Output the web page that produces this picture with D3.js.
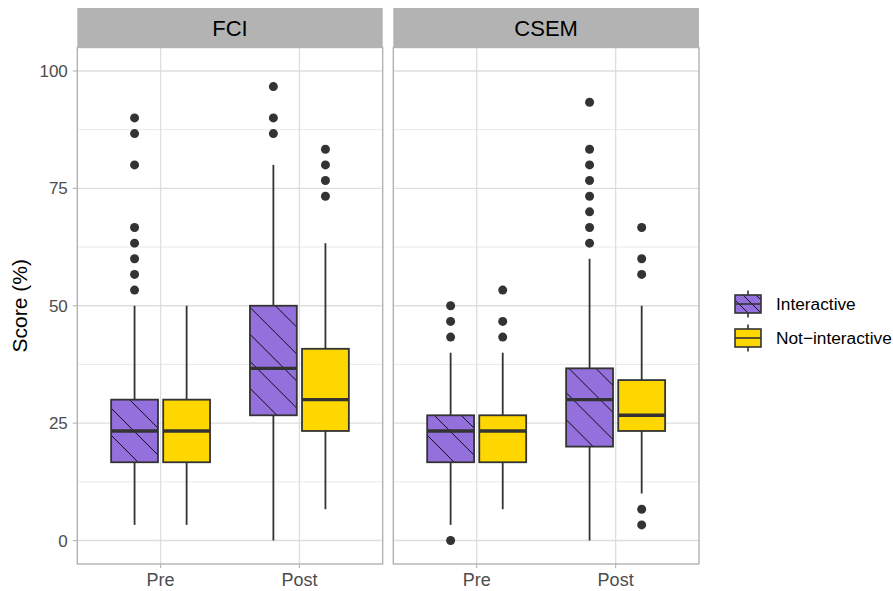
<!doctype html>
<html>
<head>
<meta charset="utf-8"/>
<script src="https://cdn.jsdelivr.net/npm/d3@7/dist/d3.min.js"></script>
<style>
  body { margin: 0; background: #fff; }
  text { font-family: "Liberation Sans", Arial, Helvetica, sans-serif; }
</style>
</head>
<body>
<script>
// ---- data ----
var facets = ["FCI", "CSEM"];
var times = ["Pre", "Post"];
var groups = ["Interactive", "Not-interactive"];
var groupLabels = ["Interactive", "Not\u2212interactive"];
var yTicks = [0, 25, 50, 75, 100];
var yMinor = [12.5, 37.5, 62.5, 87.5];

// facet, time, group, whisker low, q1, median, q3, whisker high
var boxStats = [
  ["FCI", "Pre", "Interactive", 3.33, 16.67, 23.33, 30, 50],
  ["FCI", "Pre", "Not-interactive", 3.33, 16.67, 23.33, 30, 50],
  ["FCI", "Post", "Interactive", 0, 26.67, 36.67, 50, 80],
  ["FCI", "Post", "Not-interactive", 6.67, 23.33, 30, 40.83, 63.33],
  ["CSEM", "Pre", "Interactive", 3.33, 16.67, 23.33, 26.67, 40],
  ["CSEM", "Pre", "Not-interactive", 6.67, 16.67, 23.33, 26.67, 40],
  ["CSEM", "Post", "Interactive", 0, 20, 30, 36.67, 60],
  ["CSEM", "Post", "Not-interactive", 10, 23.33, 26.67, 34.17, 50]
];
// outliers, same order as boxStats
var outliers = [
  [53.33, 56.67, 60, 63.33, 66.67, 80, 86.67, 90],
  [],
  [86.67, 90, 96.67],
  [73.33, 76.67, 80, 83.33],
  [0, 43.33, 46.67, 50],
  [43.33, 46.67, 53.33],
  [63.33, 66.67, 70, 73.33, 76.67, 80, 83.33, 93.33],
  [3.33, 6.67, 56.67, 60, 66.67]
];

var fills = ["#9370DB", "#FFD700"];

// ---- layout ----
var W = 893, H = 591;
var panelTop = 47.5, panelBottom = 564;
var panelX = [[77.3, 382.7], [393.3, 699]];
var stripTop = 8;

var svg = d3.select("body").append("svg").attr("width", W).attr("height", H);
var defs = svg.append("defs");

var y = d3.scaleLinear().domain([-5, 105]).range([panelBottom, panelTop]);
var fillScale = d3.scaleOrdinal().domain(groups).range(fills);

var dodge = 0.1875, boxW = 0.3375;
var clipId = 0;

function hatch(g, x0, y0, w, h, step) {
  var id = "clip" + (clipId++);
  defs.append("clipPath").attr("id", id)
    .append("rect").attr("x", x0).attr("y", y0).attr("width", w).attr("height", h);
  var lines = [];
  for (var c = -h; c < w; c += step) lines.push(c);
  g.append("g").attr("clip-path", "url(#" + id + ")")
    .selectAll("line").data(lines).enter().append("line")
    .attr("x1", function(c) { return x0 + c; })
    .attr("y1", y0)
    .attr("x2", function(c) { return x0 + c + h + w; })
    .attr("y2", y0 + h + w)
    .attr("stroke", "#000").attr("stroke-width", 0.9);
}

facets.forEach(function(f, fi) {
  var px0 = panelX[fi][0], px1 = panelX[fi][1];
  var x = d3.scaleLinear().domain([0.4, 2.6]).range([px0, px1]);
  var unit = x(1) - x(0);
  var pos = function(t) { return x(times.indexOf(t) + 1); };

  var g = svg.append("g");

  // strip
  g.append("rect").attr("x", px0).attr("y", stripTop)
    .attr("width", px1 - px0).attr("height", panelTop - stripTop)
    .attr("fill", "#b3b3b3");
  g.append("text").attr("x", (px0 + px1) / 2).attr("y", (stripTop + panelTop) / 2)
    .attr("dy", "0.36em").attr("text-anchor", "middle")
    .attr("font-size", 22).attr("fill", "#000").text(f);

  // grid
  g.selectAll(".minor").data(yMinor).enter().append("line")
    .attr("x1", px0).attr("x2", px1)
    .attr("y1", function(d) { return y(d); }).attr("y2", function(d) { return y(d); })
    .attr("stroke", "#e6e6e6").attr("stroke-width", 0.9);
  g.selectAll(".major").data(yTicks).enter().append("line")
    .attr("x1", px0).attr("x2", px1)
    .attr("y1", function(d) { return y(d); }).attr("y2", function(d) { return y(d); })
    .attr("stroke", "#dedede").attr("stroke-width", 1.3);
  g.selectAll(".vmajor").data(times).enter().append("line")
    .attr("y1", panelTop).attr("y2", panelBottom)
    .attr("x1", pos).attr("x2", pos)
    .attr("stroke", "#dedede").attr("stroke-width", 1.3);

  // boxes
  boxStats.forEach(function(b, bi) {
    if (b[0] !== f) return;
    var gi = groups.indexOf(b[2]);
    var cx = pos(b[1]) + (gi === 0 ? -dodge : dodge) * unit;
    var hw = boxW / 2 * unit;
    var col = "#333333";
    // whiskers
    g.append("line").attr("x1", cx).attr("x2", cx)
      .attr("y1", y(b[3])).attr("y2", y(b[4]))
      .attr("stroke", col).attr("stroke-width", 1.8);
    g.append("line").attr("x1", cx).attr("x2", cx)
      .attr("y1", y(b[6])).attr("y2", y(b[7]))
      .attr("stroke", col).attr("stroke-width", 1.8);
    // box
    var bx = cx - hw, by = y(b[6]), bh = y(b[4]) - y(b[6]);
    g.append("rect").attr("x", bx).attr("y", by).attr("width", 2 * hw).attr("height", bh)
      .attr("fill", fillScale(b[2]));
    if (gi === 0) hatch(g, bx, by, 2 * hw, bh, 27);
    g.append("line").attr("x1", bx).attr("x2", bx + 2 * hw)
      .attr("y1", y(b[5])).attr("y2", y(b[5]))
      .attr("stroke", col).attr("stroke-width", 3.4);
    g.append("rect").attr("x", bx).attr("y", by).attr("width", 2 * hw).attr("height", bh)
      .attr("fill", "none").attr("stroke", col).attr("stroke-width", 1.8);
    // outliers
    g.selectAll(null).data(outliers[bi]).enter().append("circle")
      .attr("cx", cx).attr("cy", function(d) { return y(d); })
      .attr("r", 4.5).attr("fill", col);
  });

  // panel border
  g.append("rect").attr("x", px0).attr("y", panelTop)
    .attr("width", px1 - px0).attr("height", panelBottom - panelTop)
    .attr("fill", "none").attr("stroke", "#b3b3b3").attr("stroke-width", 1.4);

  // x axis
  var xAxis = g.append("g");
  xAxis.selectAll("line").data(times).enter().append("line")
    .attr("x1", pos).attr("x2", pos)
    .attr("y1", panelBottom).attr("y2", panelBottom + 4)
    .attr("stroke", "#b3b3b3").attr("stroke-width", 1.1);
  xAxis.selectAll("text").data(times).enter().append("text")
    .attr("x", pos).attr("y", 586).attr("text-anchor", "middle")
    .attr("font-size", 18).attr("fill", "#4d4d4d").text(function(d) { return d; });

  // y axis (left panel only)
  if (fi === 0) {
    var yAxis = g.append("g");
    yAxis.selectAll("line").data(yTicks).enter().append("line")
      .attr("x1", px0 - 4.5).attr("x2", px0)
      .attr("y1", function(d) { return y(d); }).attr("y2", function(d) { return y(d); })
      .attr("stroke", "#b3b3b3").attr("stroke-width", 1.1);
    yAxis.selectAll("text").data(yTicks).enter().append("text")
      .attr("x", px0 - 9.5).attr("y", function(d) { return y(d); })
      .attr("dy", "0.36em").attr("text-anchor", "end")
      .attr("font-size", 17).attr("fill", "#4d4d4d").text(function(d) { return d; });
  }
});

// y title
svg.append("text")
  .attr("transform", "translate(27," + ((panelTop + panelBottom) / 2) + ") rotate(-90)")
  .attr("text-anchor", "middle").attr("font-size", 21).attr("fill", "#000")
  .text("Score (%)");

// legend
var legend = svg.append("g");
var keyX = 735, keyW = 26, keyH = 18, keyCenters = [304, 338];
groups.forEach(function(gName, i) {
  var cy = keyCenters[i];
  var kx = keyX, ky = cy - keyH / 2;
  legend.append("line").attr("x1", kx + keyW / 2).attr("x2", kx + keyW / 2)
    .attr("y1", cy - 13.5).attr("y2", cy + 13.5)
    .attr("stroke", "#333").attr("stroke-width", 1.6);
  legend.append("rect").attr("x", kx).attr("y", ky).attr("width", keyW).attr("height", keyH)
    .attr("fill", fillScale(gName));
  if (i === 0) hatch(legend, kx, ky, keyW, keyH, 13);
  legend.append("line").attr("x1", kx).attr("x2", kx + keyW)
    .attr("y1", cy).attr("y2", cy).attr("stroke", "#333").attr("stroke-width", 1.6);
  legend.append("rect").attr("x", kx).attr("y", ky).attr("width", keyW).attr("height", keyH)
    .attr("fill", "none").attr("stroke", "#333").attr("stroke-width", 1.6);
  legend.append("text").attr("x", 776).attr("y", cy).attr("dy", "0.36em")
    .attr("font-size", 17.3).attr("fill", "#000").text(groupLabels[i]);
});
</script>
</body>
</html>
